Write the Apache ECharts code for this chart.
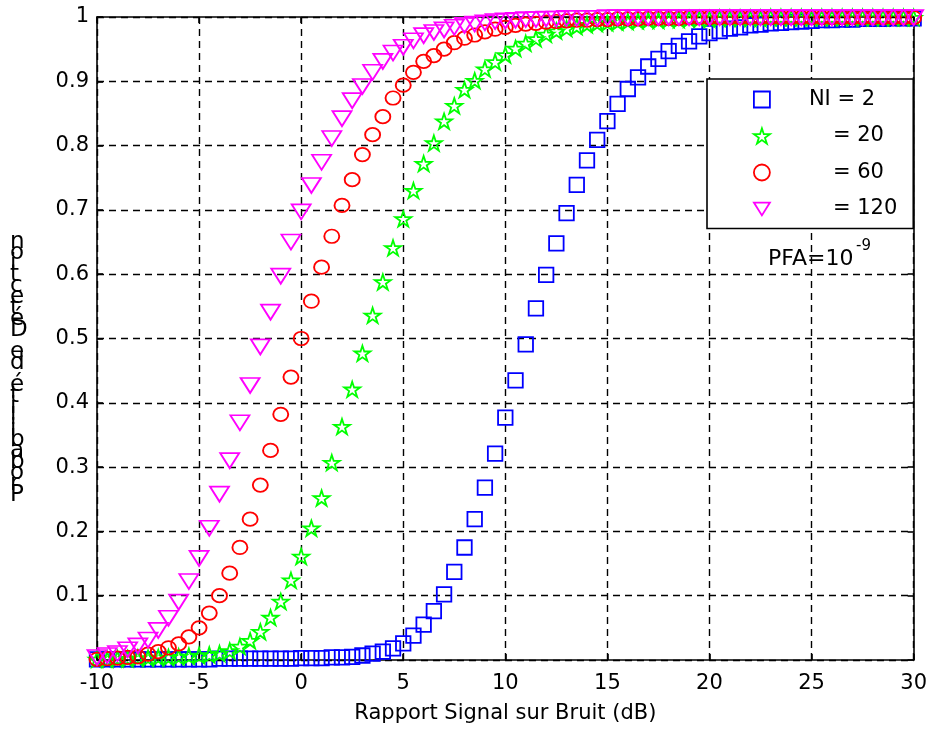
<!DOCTYPE html>
<html>
<head>
<meta charset="utf-8">
<script src="https://cdn.jsdelivr.net/npm/echarts@6/dist/echarts.min.js"></script>
<style>
  html, body { margin: 0; padding: 0; background: #fff; }
  #chart { width: 930px; height: 729px; }
</style>
</head>
<body>
<div id="chart"></div>
<script>
// Signal-to-noise ratio (dB) sample points
const snrDb = [-10,-9.5,-9,-8.5,-8,-7.5,-7,-6.5,-6,-5.5,-5,-4.5,-4,-3.5,-3,-2.5,-2,-1.5,-1,-0.5,
  0,0.5,1,1.5,2,2.5,3,3.5,4,4.5,5,5.5,6,6.5,7,7.5,8,8.5,9,9.5,
  10,10.5,11,11.5,12,12.5,13,13.5,14,14.5,15,15.5,16,16.5,17,17.5,18,18.5,19,19.5,
  20,20.5,21,21.5,22,22.5,23,23.5,24,24.5,25,25.5,26,26.5,27,27.5,28,28.5,29,29.5,30];

// Detection probability for each number of integrated pulses
const pdNi2 = [0.001,0.001,0.001,0.001,0.001,0.001,0.001,0.001,0.001,0.001,
  0.001,0.001,0.002,0.002,0.002,0.002,0.002,0.002,0.002,0.002,
  0.003,0.003,0.003,0.004,0.004,
  0.005,0.007,0.010,0.013,0.018,0.026,
  0.038,0.055,0.076,0.102,0.137,0.175,0.219,0.268,0.321,0.377,
  0.435,0.491,0.547,0.599,0.648,0.695,0.739,0.777,0.809,0.838,
  0.865,0.888,0.906,0.923,0.935,0.947,0.955,0.962,0.970,0.975,
  0.978,0.982,0.984,0.987,0.988,0.990,0.991,0.992,0.993,0.994,
  0.995,0.995,0.996,0.996,0.997,0.997,0.997,0.998,0.998,0.998];

const pdNi20 = [0.001,0.001,0.002,0.002,0.003,0.003,0.004,0.004,0.005,0.006,
  0.007,0.008,0.010,0.014,0.021,0.030,0.044,0.066,0.091,0.124,
  0.161,0.205,0.252,0.307,0.363,0.421,0.477,0.536,0.588,0.641,
  0.686,0.730,0.772,0.804,0.838,0.862,0.887,0.901,0.919,0.930,
  0.941,0.951,0.959,0.966,0.973,0.978,0.982,0.985,0.988,0.990,
  0.991,0.992,0.993,0.994,0.995,0.995,0.996,0.996,0.997,0.997,
  0.997,0.998,0.998,0.998,0.998,0.998,0.999,0.999,0.999,0.999,
  0.999,0.999,0.999,0.999,0.999,0.999,0.999,0.999,0.999,0.999,
  0.999];

const pdNi60 = [0.001,0.002,0.003,0.004,0.005,0.009,0.013,0.019,0.025,0.036,
  0.050,0.073,0.100,0.135,0.175,0.219,0.272,0.326,0.382,0.440,
  0.500,0.558,0.611,0.659,0.707,0.747,0.786,0.817,0.845,0.874,
  0.894,0.914,0.931,0.940,0.950,0.960,0.967,0.972,0.977,0.981,
  0.984,0.987,0.989,0.990,0.992,0.993,0.994,0.995,0.995,0.996,
  0.996,0.997,0.997,0.997,0.998,0.998,0.998,0.998,0.999,0.999,
  0.999,0.999,0.999,0.999,0.999,0.999,0.999,0.999,0.999,0.999,
  0.999,0.999,0.999,0.999,0.999,0.999,0.999,0.999,0.999,0.999,
  0.999];

const pdNi120 = [0.004,0.007,0.010,0.016,0.022,0.031,0.046,0.065,0.090,0.122,
  0.158,0.205,0.258,0.310,0.369,0.427,0.487,0.541,0.597,0.650,
  0.697,0.738,0.774,0.811,0.842,0.870,0.892,0.914,0.931,0.944,
  0.953,0.963,0.971,0.976,0.980,0.984,0.987,0.989,0.991,0.993,
  0.994,0.995,0.996,0.996,0.997,0.997,0.998,0.998,0.998,0.998,
  0.999,0.999,0.999,0.999,0.999,0.999,0.999,0.999,0.999,0.999,
  0.999,0.999,0.999,0.999,0.999,0.999,0.999,0.999,0.999,0.999,
  0.999,0.999,0.999,0.999,0.999,0.999,0.999,0.999,0.999,0.999,
  0.999];

const seriesNames = ['NI = 2', '= 20', '= 60', '= 120'];
const seriesColors = ['#0000ff', '#00ff00', '#ff0000', '#ff00ff'];
const xTicks = { min: -10, max: 30, step: 5 };
const yTicks = { min: 0, max: 1, step: 0.1 };
const xTitle = 'Rapport Signal sur Bruit (dB)';
const yTitle = 'Probabilité de Détection';

const FONT = 'DejaVu Sans';
const STAR = 'path://M100,0L122.45,69.1L195.1,69.1L136.3,111.8L158.8,180.9L100,138.2L41.2,180.9L63.7,111.8L4.9,69.1L77.55,69.1Z';
const TRI_DOWN = 'path://M0,0L20,0L10,16Z';
const symbols = ['rect', STAR, 'circle', TRI_DOWN];
const symbolSizes = [14.5, 16, [15, 13.5], [19, 15]];
const seriesData = [pdNi2, pdNi20, pdNi60, pdNi120];
const MARK_W = 1.8;

const chart = echarts.init(document.getElementById('chart'), null, { renderer: 'canvas' });

const gridDash = { color: '#000', width: 1.4, type: [7, 5] };

function makeXAxis(position, withLabels) {
  return {
    type: 'value', position: position,
    min: xTicks.min, max: xTicks.max, interval: xTicks.step,
    axisLine: { show: true, onZero: false, lineStyle: { color: '#000', width: 1.6 } },
    axisTick: { show: true, inside: true, length: 6, lineStyle: { color: '#000', width: 1.6 } },
    axisLabel: { show: withLabels, margin: 13, color: '#000', fontFamily: FONT, fontSize: 21 },
    splitLine: { show: withLabels, lineStyle: gridDash },
    name: withLabels ? xTitle : '',
    nameLocation: 'middle', nameGap: 43,
    nameTextStyle: { color: '#000', fontFamily: FONT, fontSize: 21 }
  };
}

function makeYAxis(position, withLabels) {
  return {
    type: 'value', position: position,
    min: yTicks.min, max: yTicks.max, interval: yTicks.step,
    axisLine: { show: true, onZero: false, lineStyle: { color: '#000', width: 1.6 } },
    axisTick: { show: true, inside: true, length: 6, lineStyle: { color: '#000', width: 1.6 } },
    axisLabel: {
      show: withLabels, margin: 8, color: '#000', fontFamily: FONT, fontSize: 21,
      formatter: v => (v === 0 ? '' : String(+v.toFixed(1)))
    },
    splitLine: { show: withLabels, lineStyle: gridDash }
  };
}

const series = seriesNames.map((name, i) => ({
  name: name,
  type: 'scatter',
  xAxisIndex: 0, yAxisIndex: 0,
  symbol: symbols[i],
  symbolSize: symbolSizes[i],
  symbolKeepAspect: i === 1,
  data: snrDb.map((x, k) => [x, seriesData[i][k]]),
  itemStyle: { color: 'transparent', borderColor: seriesColors[i], borderWidth: MARK_W, opacity: 1 },
  emphasis: { disabled: true },
  clip: false,
  z: 3 + i
}));

const option = {
  animation: false,
  backgroundColor: '#fff',
  grid: { left: 97, right: 16, top: 17, bottom: 69, containLabel: false },
  xAxis: [makeXAxis('bottom', true), makeXAxis('top', false)],
  yAxis: [makeYAxis('left', true), makeYAxis('right', false)],
  legend: {
    orient: 'vertical',
    left: 707, top: 79,
    padding: [10, 16, 9, 46],
    itemWidth: 16, itemHeight: 16, itemGap: 15.5,
    borderColor: '#000', borderWidth: 1.6, backgroundColor: '#fff',
    selectedMode: false,
    textStyle: {
      color: '#000', fontFamily: FONT, fontSize: 21, padding: [0, 0, 0, 34],
      rich: { ind: { width: 24 } }
    },
    formatter: name => (name.indexOf('NI') === 0 ? name : '{ind| }' + name),
    data: seriesNames.map((name, i) => ({
      name: name,
      icon: symbols[i],
      itemStyle: { color: 'transparent', borderColor: seriesColors[i], borderWidth: MARK_W }
    }))
  },
  graphic: [
    {
      type: 'text', left: 10, top: 231, z: 10,
      style: {
        text: yTitle.split('').reverse().join('\n'),
        fill: '#000', font: '23px "DejaVu Sans"', lineHeight: 11, align: 'center'
      }
    },
    {
      type: 'text', left: 768, top: 248, z: 10,
      style: { text: 'PFA=10', fill: '#000', font: '22px "DejaVu Sans"' }
    },
    {
      type: 'text', left: 856, top: 239, z: 10,
      style: { text: '-9', fill: '#000', font: '15px "DejaVu Sans"' }
    }
  ],
  series: series
};

chart.setOption(option);
</script>
</body>
</html>
